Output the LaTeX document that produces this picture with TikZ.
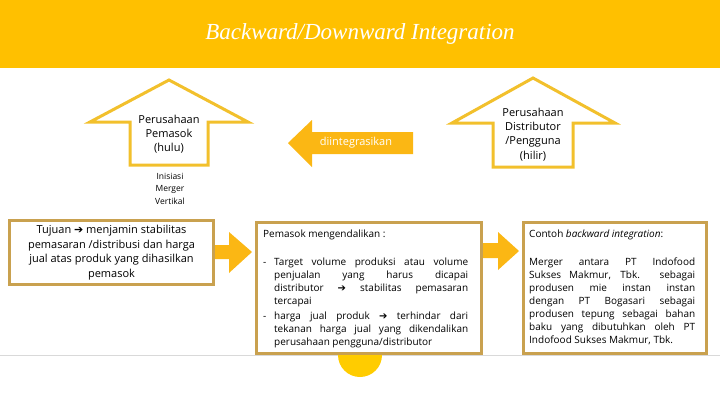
\documentclass[tikz,border=0pt]{standalone}
\usepackage{fontspec}
\setmainfont{Open Sans}
\newfontfamily\titlefont{Liberation Serif}
\newfontfamily\symfont{DejaVu Sans}
\definecolor{hdrcol}{HTML}{FFC000}
\definecolor{outcol}{HTML}{F2C02C}
\definecolor{blockcol}{HTML}{FBB714}
\definecolor{boxcol}{HTML}{C9A14F}
\definecolor{circcol}{HTML}{FFCC00}
\definecolor{linecol}{HTML}{D9D9D9}
\newcommand{\arr}{{\symfont ➔}}
\begin{document}
\begin{tikzpicture}[x=1pt,y=-1pt,
  titlestyle/.style={text=white, inner sep=0pt, font=\titlefont\itshape\fontsize{23}{26}\selectfont},
  outarrow/.style={draw=outcol, line width=3pt, line join=miter, fill=white},
  blockarrow/.style={fill=blockcol, draw=none},
  infobox/.style={draw=boxcol, line width=3pt, fill=white, inner sep=0pt},
  arrowtext/.style={inner sep=0pt, align=center, font=\fontsize{11}{14.3}\selectfont},
  smalltext/.style={inner sep=0pt, align=center, font=\fontsize{8.5}{12.5}\selectfont},
  bodytext/.style={inner sep=0pt, align=left, anchor=north west, font=\fontsize{10}{13}\selectfont}]
\useasboundingbox (0,0) rectangle (720,405);
% header
\fill[hdrcol] (0,0) rectangle (720,68);
\node[titlestyle] (title) at (360,34) {Backward/Downward Integration};
% bottom line and circle
\draw[linecol, line width=1pt] (0,355) -- (720,355);
\fill[circcol] (360,355) circle (22);
% up arrows
\draw[outarrow] (169,80) -- (248,122) -- (208,122) -- (208,165) -- (130,165) -- (130,122) -- (90,122) -- cycle;
\node[arrowtext] (hulu) at (169,134) {Perusahaan\\Pemasok\\(hulu)};
\draw[outarrow] (533,78) -- (615,123) -- (573,123) -- (573,167) -- (493,167) -- (493,123) -- (452,123) -- cycle;
\node[arrowtext] (hilir) at (533,134.5) {Perusahaan\\Distributor\\/Pengguna\\(hilir)};
% left-pointing arrow
\fill[blockarrow] (288,143) -- (312,120) -- (312,132) -- (413,132) -- (413,154) -- (312,154) -- (312,167) -- cycle;
\node[inner sep=0pt, text=white, font=\fontsize{11}{13}\selectfont] (integ) at (356,143) {diintegrasikan};
\node[smalltext] (inisiasi) at (170,188.5) {Inisiasi\\Merger\\Vertikal};
% block arrows between boxes
\fill[blockarrow] (212,245) -- (229,245) -- (229,232) -- (252,252) -- (229,273) -- (229,259) -- (212,259) -- cycle;
\fill[blockarrow] (480,243) -- (498,243) -- (498,232) -- (519,251) -- (498,270) -- (498,258) -- (480,258) -- cycle;
% boxes
\node[infobox, minimum width=204pt, minimum height=64pt, align=center, font=\fontsize{11}{14.5}\selectfont] (tujuan) at (111.5,252.5)
  {Tujuan \arr{} menjamin stabilitas\\pemasaran /distribusi dan harga\\jual atas produk yang dihasilkan\\pemasok};
\node[infobox, minimum width=225pt, minimum height=131pt] (kendali) at (369,288) {};
\node[infobox, minimum width=183pt, minimum height=131pt] (contoh) at (615,288) {};
\node[bodytext] (kendalitext) at (263,230) {Pemasok mengendalikan :\\[15pt]
\makebox[11pt][l]{-}\makebox[194pt][s]{Target volume produksi atau volume}\\
\hspace*{11pt}\makebox[194pt][s]{penjualan yang harus dicapai}\\
\hspace*{11pt}\makebox[194pt][s]{distributor \arr{} stabilitas pemasaran}\\
\hspace*{11pt}tercapai\\[2pt]
\makebox[11pt][l]{-}\makebox[194pt][s]{harga jual produk \arr{} terhindar dari}\\
\hspace*{11pt}\makebox[194pt][s]{tekanan harga jual yang dikendalikan}\\
\hspace*{11pt}perusahaan pengguna/distributor};
\node[bodytext] (contohtext) at (529,230) {Contoh \textit{backward integration}:\\[15pt]
\makebox[166pt][s]{Merger antara PT Indofood}\\
\makebox[166pt][s]{Sukses Makmur, Tbk. sebagai}\\
\makebox[166pt][s]{produsen mie instan instan}\\
\makebox[166pt][s]{dengan PT Bogasari sebagai}\\
\makebox[166pt][s]{produsen tepung sebagai bahan}\\
\makebox[166pt][s]{baku yang dibutuhkan oleh PT}\\
Indofood Sukses Makmur, Tbk.};
\end{tikzpicture}
\end{document}
